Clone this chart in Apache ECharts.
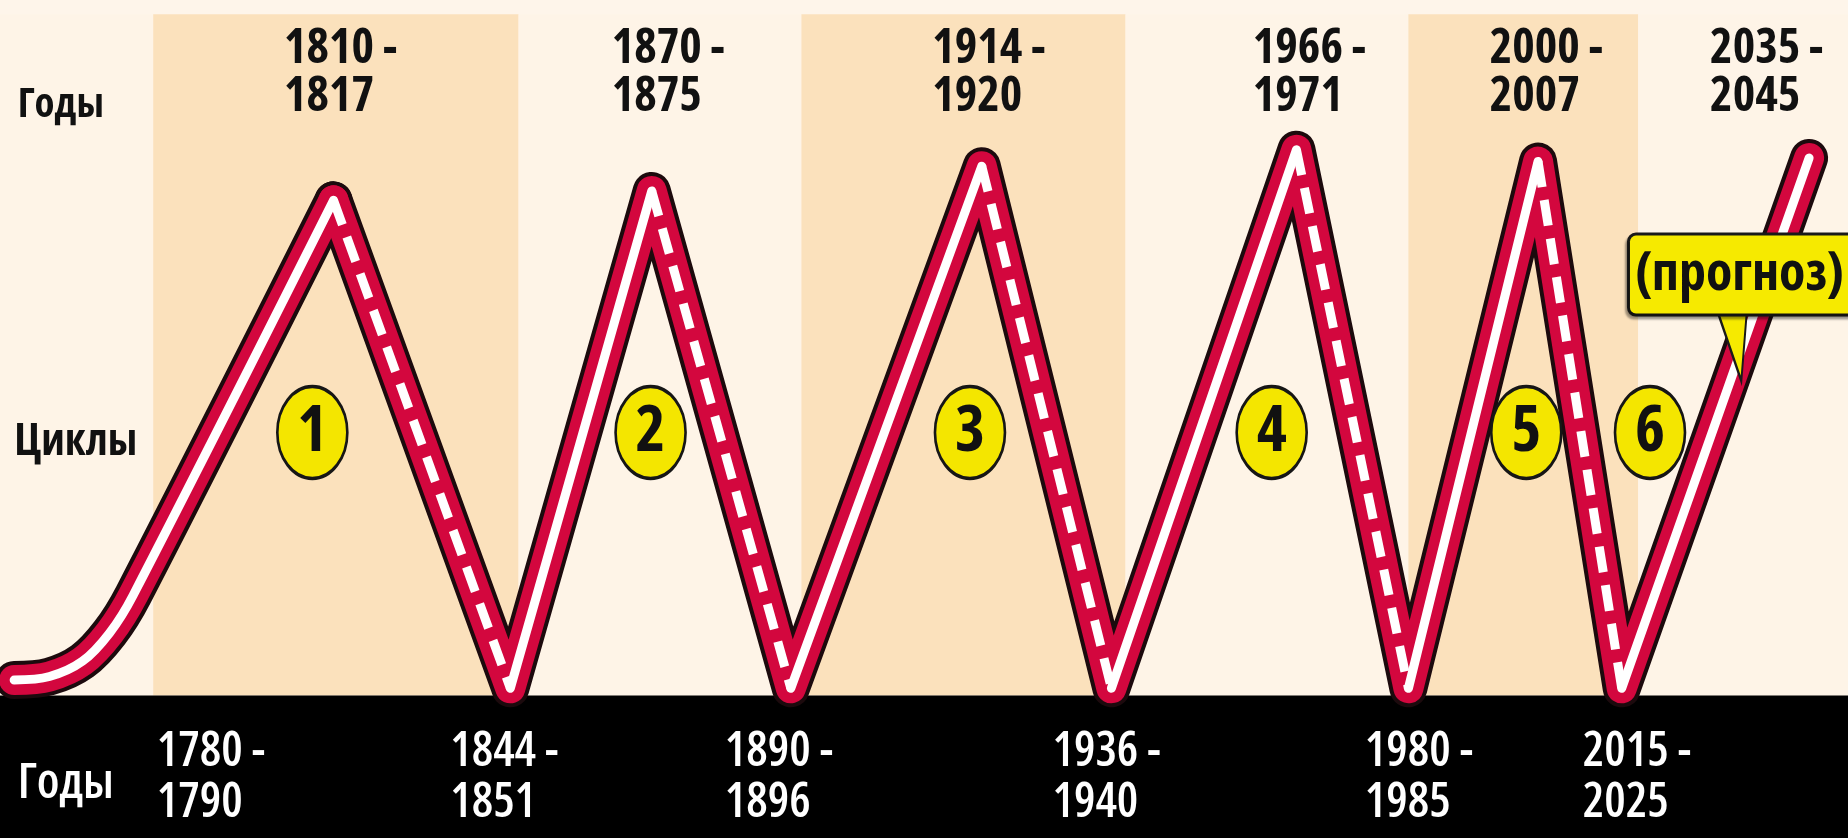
<!DOCTYPE html>
<html><head><meta charset="utf-8">
<script src="https://cdn.jsdelivr.net/npm/echarts@6/dist/echarts.min.js"></script>
<style>html,body{margin:0;padding:0;background:#fef5ea;}#c{width:1848px;height:838px;}</style>
</head><body><div id="c"></div>
<script>
// Wave path: turning points along the timeline (position) and activity level
const wavePos   = [12, 42, 70, 93, 113, 283, 433, 553, 671, 833, 943, 1100, 1195, 1305, 1376, 1535];
const waveLevel = [134, 137, 150, 174, 206, 541, 127, 549, 127, 570, 127, 584, 127, 574, 127, 577];

// Peak (upper) year ranges
const peakFrom = ['1810', '1870', '1914', '1966', '2000', '2035'];
const peakTo   = ['1817', '1875', '1920', '1971', '2007', '2045'];
const peakLabelPos = [241, 519, 791, 1063, 1264, 1451];

// Trough (lower) year ranges
const troughFrom = ['1780', '1844', '1890', '1936', '1980', '2015'];
const troughTo   = ['1790', '1851', '1896', '1940', '1985', '2025'];
const troughLabelPos = [133, 382, 615, 893, 1158, 1343];

// Cycle numbers
const cycleNums = ['1', '2', '3', '4', '5', '6'];
const cyclePos  = [265, 552, 823, 1079, 1295, 1400];

// Background bands (timeline boundaries)
const bandEdges = [0, 130, 440, 680, 955, 1195, 1390, 1568];

const forecastText = '(прогноз)';
const rowTitles = ['Годы', 'Циклы', 'Годы'];

const FONT = "'Open Sans', 'DejaVu Sans Condensed', sans-serif";
const FSTYLE = 'condensed';

const X_MAX = 1568, Y_MAX = 711, BAND_TOP = 121, STRIPE_TOP = 699;

const pts = wavePos.map((x, i) => [x, waveLevel[i]]);
const lead = pts.slice(0, 6);      // smooth lead-in up to the first peak
const rest = pts.slice(5);

// split into rising and falling runs
const rising = [], falling = [];
let cur = [pts[0]], dirUp = pts[1][1] > pts[0][1];
for (let i = 1; i < pts.length; i++) {
  const up = pts[i][1] > pts[i - 1][1];
  if (up !== dirUp) {
    (dirUp ? rising : falling).push(cur);
    cur = [pts[i - 1]];
    dirUp = up;
  }
  cur.push(pts[i]);
}
(dirUp ? rising : falling).push(cur);

function pathSeries(data, width, color, z, type, cap, smooth) {
  return {
    type: 'line', data: data, z: z, showSymbol: false, symbol: 'none', silent: true,
    clip: false, animation: false, smooth: smooth || false,
    lineStyle: { width: width, color: color, type: type || 'solid', cap: cap || 'round', join: 'round' }
  };
}

const stripeAreas = [];
for (let i = 0; i < bandEdges.length - 1; i++) {
  stripeAreas.push([
    { xAxis: bandEdges[i], yAxis: BAND_TOP, itemStyle: { color: i % 2 ? '#fbe1bc' : '#fef4e7' } },
    { xAxis: bandEdges[i + 1], yAxis: STRIPE_TOP }
  ]);
}
stripeAreas.push([
  { xAxis: 0, yAxis: 0, itemStyle: { color: '#000' } },
  { xAxis: X_MAX, yAxis: BAND_TOP }
]);

const series = [];
series.push({
  type: 'line', data: [[0, 0]], z: 0, showSymbol: false, symbol: 'none', silent: true,
  lineStyle: { width: 0 },
  markArea: { silent: true, itemStyle: { opacity: 1 }, data: stripeAreas }
});
series.push(pathSeries(lead, 38, '#1c0a0d', 2, null, null, 0.35));
series.push(pathSeries(rest, 38, '#1c0a0d', 2));
series.push(pathSeries(lead, 30, '#d3073e', 3, null, null, 0.35));
series.push(pathSeries(rest, 30, '#d3073e', 3));
rising.forEach((seg, i) => series.push(pathSeries(seg, 9, '#ffffff', 4, null, null, i === 0 ? 0.35 : false)));
falling.forEach(seg => series.push(pathSeries(seg, 9, '#ffffff', 4, [26, 13], 'butt')));

const txt = (size, color, extra) => Object.assign({
  show: true, fontSize: size, fontWeight: 'bold', fontStyle: FSTYLE, fontFamily: FONT, color: color, opacity: 1
}, extra || {});

// cycle number circles
series.push({
  type: 'scatter', z: 6, silent: true, animation: false,
  data: cyclePos.map((x, i) => [x, 344, cycleNums[i]]),
  symbol: 'circle', symbolSize: [70, 92],
  itemStyle: { color: '#f4e600', borderColor: '#161616', borderWidth: 3, opacity: 1 },
  label: txt(64, '#111', { position: 'inside', formatter: p => p.data[2] })
});

// forecast callout tail
series.push({
  type: 'scatter', z: 7, silent: true, animation: false,
  data: [[1469, 420]],
  symbol: 'path://M0,0L32,0L26,76Z', symbolSize: [32, 76], symbolKeepAspect: false,
  itemStyle: { color: '#f6ea00', borderColor: '#1a1a1a', borderWidth: 3, opacity: 1 }
});
// forecast callout box
series.push({
  type: 'scatter', z: 8, silent: true, animation: false,
  data: [[1383, 478, forecastText]], symbolSize: 0, itemStyle: { opacity: 1 },
  label: txt(54, '#111', {
    position: 'right', distance: 0, formatter: p => p.data[2], lineHeight: 56,
    backgroundColor: '#f6ea00', borderColor: '#1a1a1a', borderWidth: 3, borderRadius: 6,
    padding: [11, 40, 11, 5],
    shadowColor: 'rgba(0,0,0,0.35)', shadowOffsetX: -2, shadowOffsetY: 3, shadowBlur: 2
  })
});

// peak year labels
series.push({
  type: 'scatter', z: 9, silent: true, animation: false, symbolSize: 0, itemStyle: { opacity: 1 },
  data: peakLabelPos.map((x, i) => [x, 649, peakFrom[i] + ' -\n' + peakTo[i]]),
  label: txt(48, '#111', { position: 'right', distance: 0, align: 'left', formatter: p => p.data[2], lineHeight: 48 })
});
// trough year labels
series.push({
  type: 'scatter', z: 9, silent: true, animation: false, symbolSize: 0, itemStyle: { opacity: 1 },
  data: troughLabelPos.map((x, i) => [x, 51, troughFrom[i] + ' -\n' + troughTo[i]]),
  label: txt(48, '#fff', { position: 'right', distance: 0, align: 'left', formatter: p => p.data[2], lineHeight: 51, fontWeight: 600 })
});
// row titles
series.push({
  type: 'scatter', z: 9, silent: true, animation: false, symbolSize: 0, itemStyle: { opacity: 1 },
  data: [
    { value: [15, 622, rowTitles[0]], label: { fontSize: 41, color: '#111' } },
    { value: [12, 336, rowTitles[1]], label: { fontSize: 44, color: '#111' } },
    { value: [15, 46, rowTitles[2]], label: { fontSize: 49, color: '#fff', fontWeight: 600 } }
  ],
  label: txt(40, '#111', { position: 'right', distance: 0, align: 'left', formatter: p => p.data.value[2] })
});

const chart = echarts.init(document.getElementById('c'), null, { renderer: 'canvas' });
chart.setOption({
  animation: false,
  backgroundColor: '#fef5ea',
  grid: { left: 0, right: 0, top: 0, bottom: 0 },
  xAxis: { type: 'value', min: 0, max: X_MAX, show: false },
  yAxis: { type: 'value', min: 0, max: Y_MAX, show: false },
  series: series
});
</script>
</body></html>
